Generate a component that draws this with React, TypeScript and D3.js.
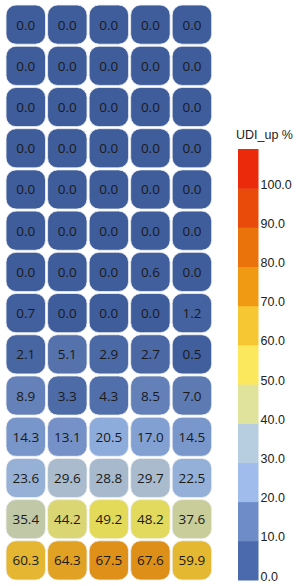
import { useEffect, useRef } from "react";
import * as d3 from "d3";

const rows = d3.range(14);
const cols = d3.range(5);

const values = [
  [0.0, 0.0, 0.0, 0.0, 0.0],
  [0.0, 0.0, 0.0, 0.0, 0.0],
  [0.0, 0.0, 0.0, 0.0, 0.0],
  [0.0, 0.0, 0.0, 0.0, 0.0],
  [0.0, 0.0, 0.0, 0.0, 0.0],
  [0.0, 0.0, 0.0, 0.0, 0.0],
  [0.0, 0.0, 0.0, 0.6, 0.0],
  [0.7, 0.0, 0.0, 0.0, 1.2],
  [2.1, 5.1, 2.9, 2.7, 0.5],
  [8.9, 3.3, 4.3, 8.5, 7.0],
  [14.3, 13.1, 20.5, 17.0, 14.5],
  [23.6, 29.6, 28.8, 29.7, 22.5],
  [35.4, 44.2, 49.2, 48.2, 37.6],
  [60.3, 64.3, 67.5, 67.6, 59.9],
];

// colour stops for cells (0..100 by 10)
const cellStops = [
  "#3f5d9b", "#6a86bd", "#8dabdc", "#aabccb", "#d2d38a", "#e6db55",
  "#e5b832", "#dc8210", "#d8600a", "#d8400c", "#d8240c",
];

// legend blocks, one per 10-unit band from 0 to 110
const legendBlocks = [
  "#4b6aad", "#6e8dc8", "#9fbcec", "#b7cde0", "#dfe39b", "#fbe85c",
  "#f7c633", "#f09a14", "#ea740b", "#e94c0a", "#ea2a0a",
];

const legendTicks = [0, 10, 20, 30, 40, 50, 60, 70, 80, 90, 100];
const legendTitle = "UDI_up %";

export default function App() {
  const svgRef = useRef<SVGSVGElement>(null);

  useEffect(() => {
    if (!svgRef.current) return;
    const svg = d3.select(svgRef.current);
    svg.selectAll("*").remove();

    const x = d3.scaleBand<number>().domain(cols).range([5, 212.7]).paddingInner(0.05).paddingOuter(0.025);
    const y = d3.scaleBand<number>().domain(rows).range([4, 581]).paddingInner(0.05).paddingOuter(0.025);

    const color = d3
      .scaleLinear<string>()
      .domain(cellStops.map((_, i) => i * 10))
      .range(cellStops)
      .interpolate(d3.interpolateRgb)
      .clamp(true);

    const cells = rows.flatMap((r) => cols.map((c) => ({ r, c, v: values[r][c] })));

    const g = svg.append("g");
    g.selectAll("rect")
      .data(cells)
      .join("rect")
      .attr("x", (d) => x(d.c)!)
      .attr("y", (d) => y(d.r)!)
      .attr("width", x.bandwidth())
      .attr("height", y.bandwidth())
      .attr("rx", 10)
      .attr("fill", (d) => color(d.v))
      .attr("stroke", "#eef0f4")
      .attr("stroke-width", 0.8);

    g.selectAll("text")
      .data(cells)
      .join("text")
      .attr("x", (d) => x(d.c)! + x.bandwidth() / 2)
      .attr("y", (d) => y(d.r)! + y.bandwidth() / 2)
      .attr("text-anchor", "middle")
      .attr("dominant-baseline", "central")
      .attr("font-family", "'Open Sans', 'Noto Sans', sans-serif")
      .attr("font-size", 13.5)
      .attr("fill", "#1a1a1a")
      .text((d) => d.v.toFixed(1));

    // legend
    const ly = d3.scaleLinear().domain([0, 110]).range([580, 149]);
    const lx = 238;
    const lw = 20.5;
    const lg = svg.append("g");
    lg.selectAll("rect")
      .data(legendBlocks)
      .join("rect")
      .attr("x", lx)
      .attr("y", (_, i) => ly((i + 1) * 10))
      .attr("width", lw)
      .attr("height", (_, i) => ly(i * 10) - ly((i + 1) * 10) + 0.5)
      .attr("fill", (d) => d);

    lg.selectAll("text.tick")
      .data(legendTicks)
      .join("text")
      .attr("class", "tick")
      .attr("x", lx + lw + 2)
      .attr("y", (d) => ly(d) + 0.5)
      .attr("font-family", "'Liberation Sans', Arial, sans-serif")
      .attr("font-size", 12.5)
      .attr("fill", "#222")
      .text((d) => d.toFixed(1));

    lg.append("text")
      .attr("x", 236)
      .attr("y", 139)
      .attr("font-family", "'Liberation Sans', Arial, sans-serif")
      .attr("font-size", 12.5)
      .attr("fill", "#222")
      .text(legendTitle);
  }, []);

  return (
    <svg
      ref={svgRef}
      width={300}
      height={586}
      style={{ position: "absolute", left: 0, top: 0, background: "#fff" }}
    />
  );
}
